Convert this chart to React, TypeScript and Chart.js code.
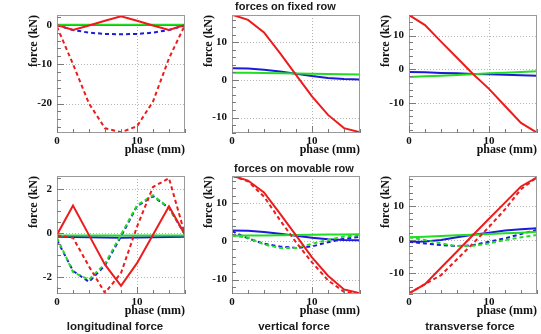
import React, { useEffect, useRef } from 'react';
import { Chart, registerables } from 'chart.js';

Chart.register(...registerables);

// ---------- data ----------
const phase = [0, 2, 4, 6, 8, 10, 12, 14, 16];

// forces on fixed row
const fixLongRedSolid = [0, -1.3, -0.15, 1.05, 2.2, 1.05, -0.15, -1.3, 0];
const fixLongRedDashed = [-0.5, -10, -20, -26.3, -27.3, -25.8, -19.5, -8.5, 0];
const fixLongBlueSolid = [-0.05, -0.05, -0.05, -0.05, -0.05, -0.05, -0.05, -0.05, -0.05];
const fixLongBlueDashed = [-0.1, -1.3, -2.0, -2.3, -2.4, -2.3, -2.0, -1.3, -0.1];
const fixLongGreenSolid = [0, 0, 0, 0, 0, 0, 0, 0, 0];

const fixVertRed = [17.3, 15.9, 12.6, 7.1, 1.3, -4.4, -9.3, -12.8, -13.9];
const fixVertBlue = [3.1, 3.0, 2.7, 2.2, 1.6, 1.0, 0.5, 0.2, 0.1];
const fixVertGreen = [1.9, 1.85, 1.8, 1.75, 1.7, 1.6, 1.55, 1.5, 1.45];

const fixTransRed = [16.1, 13.1, 8.2, 3.4, -1.4, -5.8, -10.9, -15.9, -18.8];
const fixTransBlue = [-0.8, -0.9, -1.1, -1.2, -1.4, -1.5, -1.6, -1.8, -1.9];
const fixTransGreen = [-2.3, -2.1, -1.9, -1.7, -1.5, -1.2, -1.0, -0.8, -0.6];

// forces on movable row
const movLongRedSolid = [-0.06, 1.26, -0.08, -1.42, -2.38, -1.35, -0.06, 1.23, -0.06];
const movLongRedDashed = [-0.1, -0.2, -1.5, -2.7, -1.8, 0.3, 2.1, 2.5, -0.06];
const movLongBlueSolid = [-0.15, -0.17, -0.18, -0.19, -0.2, -0.19, -0.18, -0.17, -0.15];
const movLongBlueDashed = [-0.3, -1.7, -2.2, -1.45, -0.14, 1.23, 1.68, 1.15, -0.06];
const movLongGreenSolid = [-0.1, -0.1, -0.1, -0.1, -0.1, -0.1, -0.1, -0.1, -0.1];
const movLongGreenDashed = [-0.2, -1.75, -2.1, -1.38, -0.06, 1.27, 1.73, 1.15, -0.06];

const movVertRedSolid = [17.3, 16.0, 12.9, 7.3, 1.6, -4.2, -9.0, -12.6, -13.6];
const movVertRedDashed = [17.3, 15.8, 11.8, 5.6, -0.2, -5.5, -10.2, -13.2, -13.8];
const movVertBlueSolid = [2.9, 2.8, 2.5, 2.0, 1.5, 1.0, 0.6, 0.4, 0.3];
const movVertBlueDashed = [2.7, 0.8, -0.6, -1.3, -1.7, -1.3, -0.2, 0.7, 1.2];
const movVertGreenSolid = [1.5, 1.55, 1.6, 1.65, 1.7, 1.75, 1.8, 1.85, 1.9];
const movVertGreenDashed = [1.5, 1.0, -0.8, -1.7, -1.7, -0.6, 0.4, 1.3, 1.7];

const movTransRedSolid = [-15.9, -13.2, -8.3, -3.5, 1.4, 6.2, 11.0, 15.8, 18.5];
const movTransRedDashed = [-15.9, -13.2, -10.5, -5.8, -1.1, 3.8, 9.0, 15.0, 18.5];
const movTransBlueSolid = [-0.6, -0.5, -0.1, 0.7, 1.5, 2.1, 2.7, 3.1, 3.4];
const movTransBlueDashed = [-0.6, -1.1, -1.6, -1.9, -1.6, -0.6, 0.4, 1.7, 2.9];
const movTransGreenSolid = [0.7, 0.9, 1.1, 1.3, 1.5, 1.7, 1.9, 2.1, 2.4];
const movTransGreenDashed = [0.7, -0.1, -1.1, -1.9, -1.8, -1.1, -0.1, 0.7, 1.4];

const xLabel = 'phase (mm)';
const yLabel = 'force (kN)';
const rowTitles = ['forces on fixed row', 'forces on movable row'];
const columnTitles = ['longitudinal force', 'vertical force', 'transverse force'];

// ---------- styles ----------
const RED = '#ec1c1c';
const BLUE = '#1c1cd8';
const GREEN = '#22dd22';

type Series = { values: number[]; color: string; dashed?: boolean };
type PanelDef = {
  col: number;
  row: number;
  yMin: number;
  yMax: number;
  yMajor: number;
  yMinor: number;
  series: Series[];
};

const panels: PanelDef[] = [
  {
    col: 0, row: 0, yMin: -27.5, yMax: 2.5, yMajor: 10, yMinor: 2,
    series: [
      { values: fixLongRedSolid, color: RED },
      { values: fixLongRedDashed, color: RED, dashed: true },
      { values: fixLongGreenSolid, color: GREEN },
      { values: fixLongBlueSolid, color: BLUE },
      { values: fixLongBlueDashed, color: BLUE, dashed: true },
    ],
  },
  {
    col: 1, row: 0, yMin: -14.1, yMax: 17.2, yMajor: 10, yMinor: 2,
    series: [
      { values: fixVertRed, color: RED },
      { values: fixVertGreen, color: GREEN },
      { values: fixVertBlue, color: BLUE },
    ],
  },
  {
    col: 2, row: 0, yMin: -18.9, yMax: 16.1, yMajor: 10, yMinor: 2,
    series: [
      { values: fixTransRed, color: RED },
      { values: fixTransGreen, color: GREEN },
      { values: fixTransBlue, color: BLUE },
    ],
  },
  {
    col: 0, row: 1, yMin: -2.75, yMax: 2.6, yMajor: 2, yMinor: 0.5,
    series: [
      { values: movLongRedSolid, color: RED },
      { values: movLongRedDashed, color: RED, dashed: true },
      { values: movLongGreenSolid, color: GREEN },
      { values: movLongGreenDashed, color: GREEN, dashed: true },
      { values: movLongBlueSolid, color: BLUE },
      { values: movLongBlueDashed, color: BLUE, dashed: true },
    ],
  },
  {
    col: 1, row: 1, yMin: -13.8, yMax: 17.2, yMajor: 10, yMinor: 2,
    series: [
      { values: movVertRedSolid, color: RED },
      { values: movVertRedDashed, color: RED, dashed: true },
      { values: movVertGreenSolid, color: GREEN },
      { values: movVertGreenDashed, color: GREEN, dashed: true },
      { values: movVertBlueSolid, color: BLUE },
      { values: movVertBlueDashed, color: BLUE, dashed: true },
    ],
  },
  {
    col: 2, row: 1, yMin: -16.1, yMax: 18.9, yMajor: 10, yMinor: 2,
    series: [
      { values: movTransRedSolid, color: RED },
      { values: movTransRedDashed, color: RED, dashed: true },
      { values: movTransGreenSolid, color: GREEN },
      { values: movTransGreenDashed, color: GREEN, dashed: true },
      { values: movTransBlueSolid, color: BLUE },
      { values: movTransBlueDashed, color: BLUE, dashed: true },
    ],
  },
];

// layout of plot frames (chart areas)
const COL_LEFT = [57, 232, 409];
const ROW_TOP = [15, 176];
const PLOT_W = 128;
const PLOT_H = 118;
const Y_AXIS_W = 57;
const X_AXIS_H = 30;
const PAD_TOP = 15;
const PAD_RIGHT = 6;
const CANVAS_W = Y_AXIS_W + PLOT_W + PAD_RIGHT;
const CANVAS_H = PAD_TOP + PLOT_H + X_AXIS_H;

const X_MIN = 0;
const X_MAX = 16;
const X_MAJOR = 10;
const X_MINOR = 2;

const isMultiple = (v: number, step: number) =>
  Math.abs(v / step - Math.round(v / step)) < 1e-6;

const multiplesIn = (min: number, max: number, step: number) => {
  const out: number[] = [];
  for (let k = Math.ceil(min / step - 1e-9); k * step <= max + 1e-9; k++) out.push(+(k * step).toFixed(6));
  return out;
};

const rootFrame = {
  id: 'rootFrame',
  beforeDatasetsDraw(chart: any, _args: any, opts: any) {
    const { ctx, chartArea: a, scales } = chart;
    const x = scales.x;
    const y = scales.y;
    ctx.save();
    ctx.strokeStyle = '#b4b4b4';
    ctx.lineWidth = 1;
    ctx.setLineDash([1, 2]);
    for (const v of multiplesIn(x.min, x.max, X_MAJOR)) {
      const px = Math.round(x.getPixelForValue(v)) + 0.5;
      if (px <= a.left + 1 || px >= a.right - 1) continue;
      ctx.beginPath();
      ctx.moveTo(px, a.top);
      ctx.lineTo(px, a.bottom);
      ctx.stroke();
    }
    for (const v of multiplesIn(y.min, y.max, opts.yMajor)) {
      const py = Math.round(y.getPixelForValue(v)) + 0.5;
      if (py <= a.top + 1 || py >= a.bottom - 1) continue;
      ctx.beginPath();
      ctx.moveTo(a.left, py);
      ctx.lineTo(a.right, py);
      ctx.stroke();
    }
    ctx.restore();
  },
  afterDatasetsDraw(chart: any, _args: any, opts: any) {
    const { ctx, chartArea: a, scales } = chart;
    const x = scales.x;
    const y = scales.y;
    ctx.save();
    ctx.setLineDash([]);
    ctx.lineWidth = 1;
    ctx.strokeStyle = '#9a9a9a';
    ctx.strokeRect(Math.round(a.left) + 0.5, Math.round(a.top) + 0.5,
      Math.round(a.right - a.left) - 1, Math.round(a.bottom - a.top) - 1);
    ctx.strokeStyle = '#7a7a7a';
    for (const v of multiplesIn(x.min, x.max, X_MINOR)) {
      const px = Math.round(x.getPixelForValue(v)) + 0.5;
      const len = isMultiple(v, X_MAJOR) ? 7 : 4;
      ctx.beginPath();
      ctx.moveTo(px, a.bottom);
      ctx.lineTo(px, a.bottom - len);
      ctx.stroke();
    }
    for (const v of multiplesIn(y.min, y.max, opts.yMinor)) {
      const py = Math.round(y.getPixelForValue(v)) + 0.5;
      const len = isMultiple(v, opts.yMajor) ? 7 : 4;
      ctx.beginPath();
      ctx.moveTo(a.left, py);
      ctx.lineTo(a.left + len, py);
      ctx.stroke();
    }
    ctx.restore();
  },
};

const tickFont = { family: '"Liberation Serif", serif', weight: 'bold' as const, size: 11 };
const titleFont = { family: '"Liberation Serif", serif', weight: 'bold' as const, size: 12 };

function Panel({ def }: { def: PanelDef }) {
  const ref = useRef<HTMLCanvasElement | null>(null);
  useEffect(() => {
    if (!ref.current) return;
    const datasets = def.series.map((s) => ({
      data: phase.map((p, i) => ({ x: p, y: s.values[i] })),
      borderColor: s.color,
      backgroundColor: s.color,
      borderWidth: 2,
      borderDash: s.dashed ? [4, 3] : [],
      pointRadius: 0,
      fill: false,
      tension: 0,
    }));
    const chart = new Chart(ref.current, {
      type: 'line',
      data: { datasets },
      plugins: [rootFrame],
      options: {
        animation: false,
        responsive: false,
        events: [],
        layout: { padding: { left: 0, top: PAD_TOP, right: PAD_RIGHT, bottom: 0 } },
        plugins: {
          legend: { display: false },
          tooltip: { enabled: false },
          rootFrame: { yMajor: def.yMajor, yMinor: def.yMinor },
        } as any,
        scales: {
          x: {
            type: 'linear',
            min: X_MIN,
            max: X_MAX,
            grid: { display: false, drawTicks: false },
            border: { display: false },
            afterBuildTicks: (scale: any) => {
              scale.ticks = multiplesIn(X_MIN, X_MAX, X_MAJOR).map((v) => ({ value: v }));
            },
            ticks: {
              autoSkip: false,
              maxRotation: 0,
              padding: 2,
              color: '#111',
              font: tickFont,
              callback: (v: any) => String(v),
            },
            title: {
              display: true,
              text: xLabel,
              align: 'end',
              color: '#111',
              font: titleFont,
              padding: { top: 0, bottom: 6 },
            },
            afterFit: (scale: any) => { scale.height = X_AXIS_H; },
          },
          y: {
            type: 'linear',
            min: def.yMin,
            max: def.yMax,
            grid: { display: false, drawTicks: false },
            border: { display: false },
            afterBuildTicks: (scale: any) => {
              scale.ticks = multiplesIn(def.yMin, def.yMax, def.yMajor).map((v) => ({ value: v }));
            },
            ticks: {
              autoSkip: false,
              padding: 5,
              color: '#111',
              font: tickFont,
              callback: (v: any) => String(Math.round(Number(v))),
            },
            title: {
              display: true,
              text: yLabel,
              align: 'end',
              color: '#111',
              font: titleFont,
              padding: { top: 27, bottom: 0 },
            },
            afterFit: (scale: any) => { scale.width = Y_AXIS_W; },
          },
        },
      } as any,
    });
    return () => chart.destroy();
  }, [def]);
  return (
    <canvas
      ref={ref}
      width={CANVAS_W}
      height={CANVAS_H}
      style={{
        position: 'absolute',
        left: COL_LEFT[def.col] - Y_AXIS_W,
        top: ROW_TOP[def.row] - PAD_TOP,
        width: CANVAS_W,
        height: CANVAS_H,
      }}
    />
  );
}

const labelStyle: React.CSSProperties = {
  position: 'absolute',
  fontFamily: '"Liberation Sans", Arial, sans-serif',
  fontWeight: 'bold',
  color: '#1a1a1a',
  whiteSpace: 'nowrap',
  lineHeight: '14px',
};

export default function App() {
  return (
    <div style={{ position: 'absolute', left: 0, top: 0, width: 541, height: 334, background: '#fff', overflow: 'hidden' }}>
      {panels.map((p, i) => (
        <Panel key={i} def={p} />
      ))}
      <div style={{ ...labelStyle, left: 235, top: -1, fontSize: 11 }}>{rowTitles[0]}</div>
      <div style={{ ...labelStyle, left: 234, top: 161, fontSize: 11 }}>{rowTitles[1]}</div>
      {columnTitles.map((t, i) => (
        <div
          key={t}
          style={{
            ...labelStyle,
            left: [115, 294, 470][i] - 100,
            width: 200,
            textAlign: 'center',
            top: 319,
            fontSize: 11.5,
          }}
        >
          {t}
        </div>
      ))}
    </div>
  );
}
